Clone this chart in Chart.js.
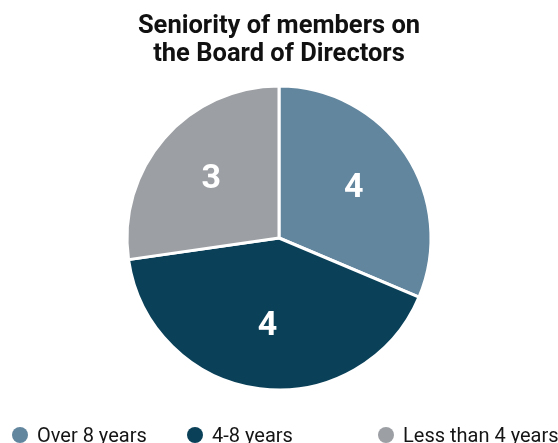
<!DOCTYPE html>
<html>
<head>
<meta charset="utf-8">
<script src="https://cdn.jsdelivr.net/npm/chart.js@4"></script>
<style>
  html, body { margin: 0; padding: 0; background: #fff; overflow: hidden; }
  #wrap { position: relative; width: 558px; height: 443px; overflow: hidden; }
  #legend { position: absolute; left: 0; top: 0; width: 558px; height: 443px; pointer-events: none; }
  .item { position: absolute; top: 422px; white-space: nowrap; font-family: Roboto, sans-serif; font-size: 20px; color: #151515; line-height: 26px; }
  .dot { display: inline-block; width: 16px; height: 16px; border-radius: 50%; vertical-align: -1px; margin-right: 9px; }
</style>
</head>
<body>
<div id="wrap">
  <canvas id="myChart" width="558" height="443"></canvas>
  <div id="legend"></div>
</div>
<script>
// chart data
const categories = ['Over 8 years', '4-8 years', 'Less than 4 years'];
const sliceShares = [3.45, 4.55, 3];      // slice sizes
const shownCounts = ['4', '4', '3'];      // numbers printed on the slices
const sliceColors = ['#62869e', '#0a4159', '#9c9fa4'];
const titleLines = ['Seniority of members on', 'the Board of Directors'];

// legend item left edges
const legendLeft = [12, 187, 378];

// draws the counts inside each slice
const sliceLabels = {
    id: 'sliceLabels',
    afterDatasetsDraw(chart) {
        const ctx = chart.ctx;
        const meta = chart.getDatasetMeta(0);
        ctx.save();
        ctx.fillStyle = '#ffffff';
        ctx.font = 'bold 34px Roboto, sans-serif';
        ctx.textAlign = 'center';
        ctx.textBaseline = 'middle';
        meta.data.forEach((arc, i) => {
            const p = arc.getProps(['x', 'y', 'startAngle', 'endAngle', 'outerRadius'], true);
            const mid = (p.startAngle + p.endAngle) / 2;
            const r = p.outerRadius * 0.59;
            ctx.fillText(shownCounts[i], p.x + Math.cos(mid) * r, p.y + Math.sin(mid) * r);
        });
        ctx.restore();
    }
};

const ctx = document.getElementById('myChart').getContext('2d');
const myChart = new Chart(ctx, {
    type: 'pie',
    data: {
        labels: categories,
        datasets: [{
            data: sliceShares,
            backgroundColor: sliceColors,
            borderColor: '#ffffff',
            borderWidth: 3
        }]
    },
    options: {
        responsive: false,
        animation: false,
        devicePixelRatio: 1,
        layout: { padding: { bottom: 51.5 } },
        plugins: {
            legend: { display: false },
            tooltip: { enabled: false },
            title: {
                display: true,
                text: titleLines,
                color: '#111111',
                font: { family: 'Roboto, sans-serif', size: 25.5, weight: 'bold', lineHeight: 1.1 },
                padding: { top: 13, bottom: 15.4 }
            }
        }
    },
    plugins: [sliceLabels]
});

// html legend
const legendBox = document.getElementById('legend');
categories.forEach((name, i) => {
    const div = document.createElement('div');
    div.className = 'item';
    div.style.left = legendLeft[i] + 'px';
    div.innerHTML = `<span class="dot" style="background:${sliceColors[i]}"></span>${name}`;
    legendBox.appendChild(div);
});
</script>
</body>
</html>
